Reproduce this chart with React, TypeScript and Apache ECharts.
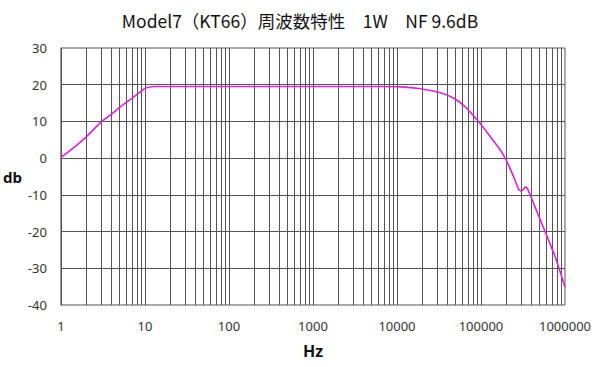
import React, { useEffect, useRef } from "react";
import * as echarts from "echarts";

const titleText = "Model7（KT66）周波数特性　1W　NF 9.6dB";
const freqs = [1, 1.5, 2, 3, 4, 5, 6, 7, 8, 9, 10, 11, 13, 20, 100, 1000, 6400, 11100, 19000, 33000, 47600, 62500, 94200, 129700, 170000, 200000, 245000, 281000, 300000, 320000, 337000, 355000, 386000, 582000, 765000, 1000000];
const gains = [0.2, 3.3, 5.8, 9.8, 12.0, 13.8, 15.2, 16.3, 17.3, 18.2, 19.0, 19.3, 19.5, 19.5, 19.5, 19.5, 19.5, 19.4, 18.9, 17.8, 16.3, 14.3, 9.9, 5.8, 2.2, -0.6, -5.1, -8.5, -9.0, -8.5, -7.9, -8.2, -10.1, -20.1, -26.9, -35.1];
const decadeLabels = [1, 10, 100, 1000, 10000, 100000, 1000000];
const minorMultipliers = [2, 3, 4, 5, 6, 7, 8, 9];
const yTicks = [-40, -30, -20, -10, 0, 10, 20, 30];

export default function App() {
  const ref = useRef<HTMLDivElement>(null);
  useEffect(() => {
    if (!ref.current) return;
    const chart = echarts.init(ref.current, undefined, { renderer: "svg" });
    const gridX: number[] = [];
    decadeLabels.forEach((d, i) => {
      if (i > 0 && i < decadeLabels.length - 1) gridX.push(d);
      if (i < decadeLabels.length - 1) minorMultipliers.forEach((m) => gridX.push(d * m));
    });
    const gridY = yTicks.slice(1, -1);
    chart.setOption({
      animation: false,
      title: {
        text: titleText,
        left: "center",
        top: 7,
        textStyle: { fontSize: 17.5, fontWeight: "normal", color: "#111", fontFamily: "Noto Sans CJK JP" },
      },
      grid: { left: 59, right: 35, top: 48, bottom: 62, show: true, borderColor: "#555", borderWidth: 1 },
      xAxis: {
        type: "log",
        logBase: 10,
        min: 1,
        max: 1000000,
        name: "Hz",
        nameLocation: "middle",
        nameGap: 38,
        nameTextStyle: { fontSize: 16, fontWeight: "bold", color: "#111", fontFamily: "Noto Sans" },
        axisLine: { show: true, lineStyle: { color: "#555" } },
        axisTick: { show: false },
        splitLine: { show: false },
        axisLabel: { color: "#333", fontSize: 13, margin: 14, fontFamily: "Noto Sans", formatter: (v: number) => String(Math.round(v)) },
      },
      yAxis: {
        type: "value",
        min: -40,
        max: 30,
        interval: 10,
        name: "db",
        nameLocation: "middle",
        nameRotate: 0,
        nameGap: 37,
        nameTextStyle: { fontSize: 15, fontWeight: "bold", color: "#111", fontFamily: "Noto Sans" },
        axisLine: { show: true, lineStyle: { color: "#555" } },
        axisTick: { show: false },
        splitLine: { show: false },
        axisLabel: { color: "#333", fontSize: 13, margin: 14, fontFamily: "Noto Sans" },
      },
      series: [
        {
          type: "line",
          data: [],
          z: 1,
          silent: true,
          markLine: {
            silent: true,
            symbol: "none",
            label: { show: false },
            animation: false,
            lineStyle: { color: "#555", width: 1, type: "solid" },
            data: [
              ...gridX.map((x) => ({ xAxis: x })),
              ...gridY.map((y) => ({ yAxis: y })),
            ],
          },
        },
        {
          type: "line",
          z: 5,
          data: freqs.map((f, i) => [f, gains[i]]),
          smooth: 0.2,
          showSymbol: false,
          lineStyle: { color: "#dd22dd", width: 1.6 },
          itemStyle: { color: "#dd22dd" },
        },
      ],
    });
    return () => chart.dispose();
  }, []);
  return <div ref={ref} style={{ width: 600, height: 367, position: "absolute", left: 0, top: 0, background: "#fff" }} />;
}
